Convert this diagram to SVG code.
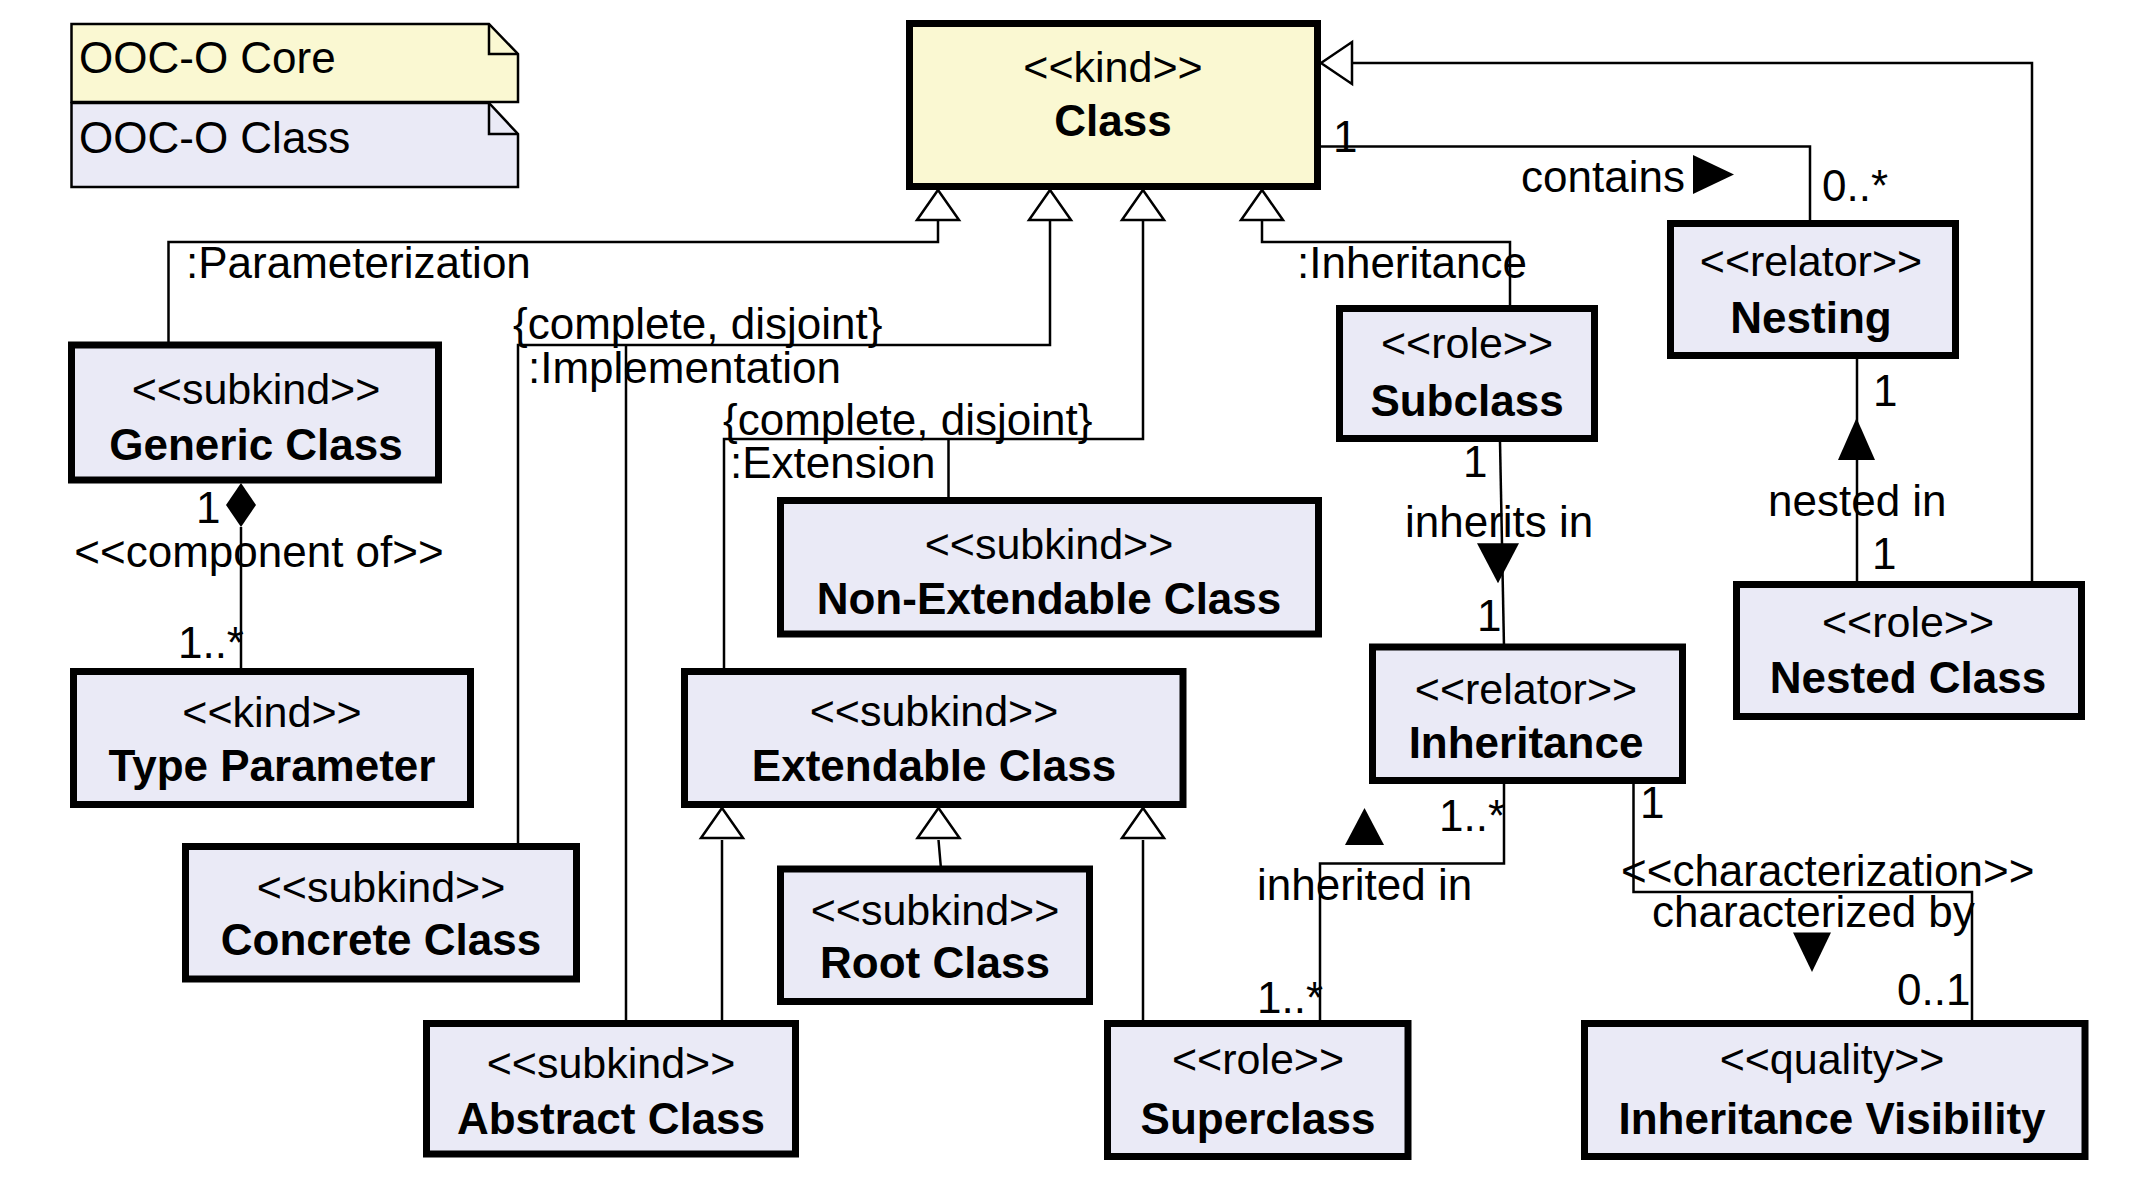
<svg xmlns="http://www.w3.org/2000/svg" xmlns:xlink="http://www.w3.org/1999/xlink" width="2156" height="1202" viewBox="0 0 2156 1202">
<style>
.box{stroke:#000;stroke-width:7}
.y{fill:#FAF8D2}
.p{fill:#EAEAF6}
text{font-family:"Liberation Sans",Arial,sans-serif;fill:#000}
.st{font-size:43px;text-anchor:middle}
.nm{font-size:44px;font-weight:bold;text-anchor:middle}
.lb{font-size:44px}
.ln{fill:none;stroke:#000;stroke-width:2.5}
.gen{fill:#fff;stroke:#000;stroke-width:2.5;stroke-linejoin:miter}
.fa{fill:#000}
.note{stroke:#000;stroke-width:2.5}
</style>
<defs>
<path id="tri" d="M0,0 L21,30 L-21,30 Z"/>
</defs>
<rect width="2156" height="1202" fill="#fff"/>

<g id="note-core">
<path class="note y" d="M71.5,24 H489 L518,54 V102 H71.5 Z"/>
<path class="ln" d="M489,24 V54 H518"/>
<text class="lb" x="79" y="73">OOC-O Core</text>
</g>
<g id="note-class">
<path class="note p" d="M71.5,103 H489 L518,134 V187 H71.5 Z"/>
<path class="ln" d="M489,103 V134 H518"/>
<text class="lb" x="79" y="153">OOC-O Class</text>
</g>

<g id="connectors">
<!-- generalizations to Class -->
<path class="ln" d="M938,220 V242 H168.5 V345"/>
<path class="ln" d="M1050,220 V345 H518 V846.5 M626,345 V1023.5"/>
<path class="ln" d="M1143,220 V439 H724 V671.5 M948.5,439 V500.5"/>
<path class="ln" d="M1262,220 V242 H1510 V308.5"/>
<path class="ln" d="M1352,63 H2032 V584.5"/>
<use xlink:href="#tri" class="gen" x="938" y="190"/>
<use xlink:href="#tri" class="gen" x="1050" y="190"/>
<use xlink:href="#tri" class="gen" x="1143" y="190"/>
<use xlink:href="#tri" class="gen" x="1262" y="190"/>
<path class="gen" d="M1321,63 L1352,42 L1352,84 Z"/>
<!-- generalizations to Extendable Class -->
<path class="ln" d="M722,840 V1023.5 M938.5,840 L941,869 M1143,840 V1023.5"/>
<use xlink:href="#tri" class="gen" x="722" y="808"/>
<use xlink:href="#tri" class="gen" x="938.5" y="808"/>
<use xlink:href="#tri" class="gen" x="1143" y="808"/>
<text class="lb" x="186" y="278">:Parameterization</text>
<text class="lb" x="513" y="339">{complete, disjoint}</text>
<text class="lb" x="528" y="383">:Implementation</text>
<text class="lb" x="723" y="435">{complete, disjoint}</text>
<text class="lb" x="730" y="478">:Extension</text>
<text class="lb" x="1297" y="278">:Inheritance</text>

<!-- component of -->
<path class="ln" d="M241,527 V671.5"/>
<path class="fa" d="M241,483 L256,505 L241,527 L226,505 Z"/>
<text class="lb" x="196" y="523">1</text>
<text class="lb" x="259" y="567" text-anchor="middle">&lt;&lt;component of&gt;&gt;</text>
<text class="lb" x="244" y="658" text-anchor="end">1..*</text>

<!-- contains -->
<path class="ln" d="M1321,146.5 H1810 V223.5"/>
<text class="lb" x="1333" y="152">1</text>
<text class="lb" x="1521" y="192">contains</text>
<path class="fa" d="M1693,155 L1734,174.5 L1693,194 Z"/>
<text class="lb" x="1822" y="201">0..*</text>

<!-- nested in -->
<path class="ln" d="M1857,359 V584.5"/>
<text class="lb" x="1873" y="406">1</text>
<path class="fa" d="M1838,460 L1856.5,418 L1875,460 Z"/>
<text class="lb" x="1768" y="516">nested in</text>
<text class="lb" x="1872" y="569">1</text>

<!-- inherits in -->
<path class="ln" d="M1500,441.7 L1504,647"/>
<text class="lb" x="1463" y="477">1</text>
<text class="lb" x="1405" y="537">inherits in</text>
<path class="fa" d="M1477,543.3 L1519,543.3 L1498,583.3 Z"/>
<text class="lb" x="1477" y="631">1</text>

<!-- inherited in -->
<path class="ln" d="M1504,784 V863.6 H1320 V1023.5"/>
<text class="lb" x="1439" y="831">1..*</text>
<path class="fa" d="M1345,845 L1364.5,808 L1384,845 Z"/>
<text class="lb" x="1257" y="900">inherited in</text>
<text class="lb" x="1257" y="1013">1..*</text>

<!-- characterization -->
<path class="ln" d="M1633.5,784 V892 H1972 V1023.5"/>
<text class="lb" x="1640" y="818">1</text>
<text class="lb" x="1621" y="886">&lt;&lt;characterization&gt;&gt;</text>
<text class="lb" x="1652" y="927">characterized by</text>
<path class="fa" d="M1793,932.5 L1831,932.5 L1812,972 Z"/>
<text class="lb" x="1897" y="1005">0..1</text>
</g>

<g id="class">
<rect class="box y" x="909.5" y="23.5" width="408" height="163"/>
<text class="st" x="1113" y="82">&lt;&lt;kind&gt;&gt;</text>
<text class="nm" x="1113" y="136">Class</text>
</g>
<g id="generic-class">
<rect class="box p" x="71.5" y="345" width="367" height="135"/>
<text class="st" x="256" y="404">&lt;&lt;subkind&gt;&gt;</text>
<text class="nm" x="256" y="460">Generic Class</text>
</g>
<g id="type-parameter">
<rect class="box p" x="73.5" y="671.5" width="397" height="133"/>
<text class="st" x="272" y="727">&lt;&lt;kind&gt;&gt;</text>
<text class="nm" x="272" y="781">Type Parameter</text>
</g>
<g id="concrete-class">
<rect class="box p" x="185.5" y="846.5" width="391" height="132.5"/>
<text class="st" x="381" y="902">&lt;&lt;subkind&gt;&gt;</text>
<text class="nm" x="381" y="955">Concrete Class</text>
</g>
<g id="abstract-class">
<rect class="box p" x="426.5" y="1023.5" width="369" height="130.5"/>
<text class="st" x="611" y="1078">&lt;&lt;subkind&gt;&gt;</text>
<text class="nm" x="611" y="1134">Abstract Class</text>
</g>
<g id="non-extendable-class">
<rect class="box p" x="780.5" y="500.5" width="538" height="133.5"/>
<text class="st" x="1049" y="559">&lt;&lt;subkind&gt;&gt;</text>
<text class="nm" x="1049" y="614">Non-Extendable Class</text>
</g>
<g id="extendable-class">
<rect class="box p" x="684.5" y="671.5" width="498.5" height="133"/>
<text class="st" x="934" y="726">&lt;&lt;subkind&gt;&gt;</text>
<text class="nm" x="934" y="781">Extendable Class</text>
</g>
<g id="root-class">
<rect class="box p" x="780.5" y="869" width="309" height="132.5"/>
<text class="st" x="935" y="925">&lt;&lt;subkind&gt;&gt;</text>
<text class="nm" x="935" y="978">Root Class</text>
</g>
<g id="superclass">
<rect class="box p" x="1107.5" y="1023.5" width="300.5" height="133"/>
<text class="st" x="1258" y="1074">&lt;&lt;role&gt;&gt;</text>
<text class="nm" x="1258" y="1134">Superclass</text>
</g>
<g id="subclass">
<rect class="box p" x="1339.5" y="308.5" width="255" height="130"/>
<text class="st" x="1467" y="358">&lt;&lt;role&gt;&gt;</text>
<text class="nm" x="1467" y="416">Subclass</text>
</g>
<g id="nesting">
<rect class="box p" x="1670.5" y="223.5" width="285" height="132"/>
<text class="st" x="1811" y="276">&lt;&lt;relator&gt;&gt;</text>
<text class="nm" x="1811" y="333">Nesting</text>
</g>
<g id="nested-class">
<rect class="box p" x="1736.5" y="584.5" width="345" height="132"/>
<text class="st" x="1908" y="637">&lt;&lt;role&gt;&gt;</text>
<text class="nm" x="1908" y="693">Nested Class</text>
</g>
<g id="inheritance">
<rect class="box p" x="1372.5" y="647" width="310" height="133.5"/>
<text class="st" x="1526" y="704">&lt;&lt;relator&gt;&gt;</text>
<text class="nm" x="1526" y="758">Inheritance</text>
</g>
<g id="inheritance-visibility">
<rect class="box p" x="1584.5" y="1023.5" width="500.5" height="133"/>
<text class="st" x="1832" y="1074">&lt;&lt;quality&gt;&gt;</text>
<text class="nm" x="1832" y="1134">Inheritance Visibility</text>
</g>
</svg>
